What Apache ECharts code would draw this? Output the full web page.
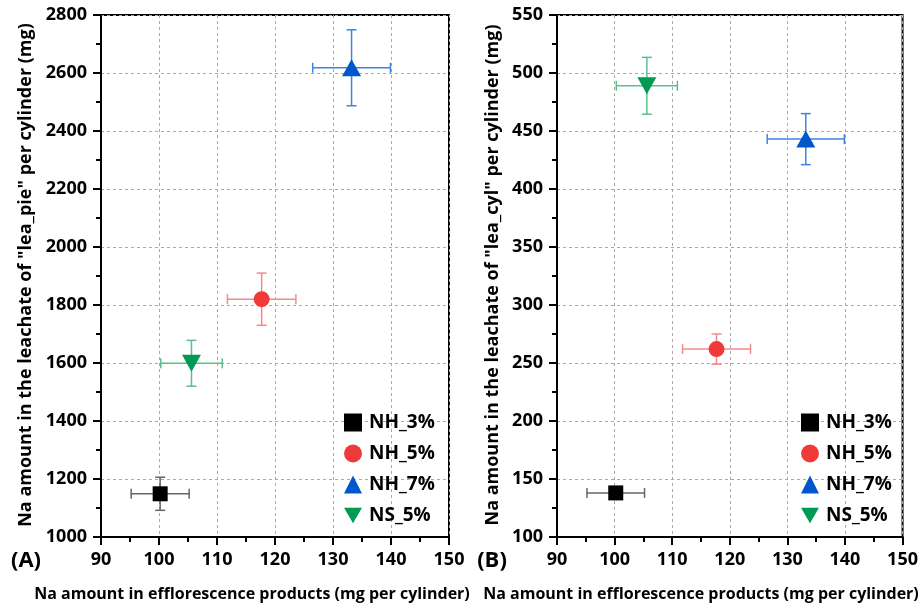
<!DOCTYPE html>
<html>
<head>
    <meta charset="utf-8">
    <title>Na amount</title>
    <script src="https://cdn.jsdelivr.net/npm/echarts@6/dist/echarts.min.js"></script>
    <style>
        html, body { margin: 0; padding: 0; background: #fff; }
        #chart { width: 921px; height: 609px; }
    </style>
</head>
<body>
<div id="chart"></div>
<script type="text/javascript">
// series names, same order in both panels
var names = ['NH_3%', 'NH_5%', 'NH_7%', 'NS_5%'];

// x: Na in efflorescence products (shared by both panels)
var effX = [100.2, 117.7, 133.2, 105.6];
var effXErr = [5.0, 5.9, 6.7, 5.3];

// panel A: leachate of "lea_pie"
var pieY = [1149, 1820, 2618, 1599];
var pieYErr = [57, 90, 131, 79];

// panel B: leachate of "lea_cyl"
var cylY = [138, 262, 443, 489];
var cylYErr = [5, 13, 22, 24.5];

var markColors = ['#000000', '#f03a3a', '#0057cc', '#009a55'];
var barColors = ['#666666', '#f38a8a', '#3f83e3', '#5cbf8c'];
var symbols = ['rect', 'circle', 'triangle', 'path://M0,0 L10,0 L5,8.7 Z'];
var symbolSizes = [15, 16, [19, 17], [19, 17]];

var font = '"Open Sans", "DejaVu Sans", sans-serif';

var myChart = echarts.init(document.getElementById('chart'));

function errorBars(color) {
    return function (params, api) {
        var x = api.value(0), y = api.value(1), dx = api.value(2), dy = api.value(3);
        var l = api.coord([x - dx, y]);
        var r = api.coord([x + dx, y]);
        var t = api.coord([x, y + dy]);
        var b = api.coord([x, y - dy]);
        var cap = 5;
        var st = { stroke: color, lineWidth: 1.5 };
        return {
            type: 'group',
            children: [
                { type: 'line', shape: { x1: l[0], y1: l[1], x2: r[0], y2: r[1] }, style: st },
                { type: 'line', shape: { x1: l[0], y1: l[1] - cap, x2: l[0], y2: l[1] + cap }, style: st },
                { type: 'line', shape: { x1: r[0], y1: r[1] - cap, x2: r[0], y2: r[1] + cap }, style: st },
                { type: 'line', shape: { x1: t[0], y1: t[1], x2: b[0], y2: b[1] }, style: st },
                { type: 'line', shape: { x1: t[0] - cap, y1: t[1], x2: t[0] + cap, y2: t[1] }, style: st },
                { type: 'line', shape: { x1: b[0] - cap, y1: b[1], x2: b[0] + cap, y2: b[1] }, style: st }
            ]
        };
    };
}

var series = [];
[[pieY, pieYErr], [cylY, cylYErr]].forEach(function (panel, p) {
    names.forEach(function (n, i) {
        series.push({
            name: n,
            type: 'custom',
            xAxisIndex: p,
            yAxisIndex: p,
            renderItem: errorBars(barColors[i]),
            itemStyle: { color: markColors[i] },
            data: [[effX[i], panel[0][i], effXErr[i], panel[1][i]]],
            z: 2,
            silent: true
        });
        series.push({
            name: n,
            type: 'scatter',
            xAxisIndex: p,
            yAxisIndex: p,
            symbol: symbols[i],
            symbolSize: symbolSizes[i],
            itemStyle: { color: markColors[i], opacity: 1 },
            data: [[effX[i], panel[0][i]]],
            z: 5
        });
    });
});

function axisCommon() {
    return {
        axisLine: { show: true, lineStyle: { color: '#000', width: 2 } },
        axisTick: { show: true, length: 8, lineStyle: { color: '#000', width: 2 } },
        minorTick: { show: true, splitNumber: 2, length: 5, lineStyle: { color: '#000', width: 2 } },
        axisLabel: {
            color: '#000', fontFamily: font, fontWeight: 'bold', fontSize: 18, margin: 14,
            formatter: function (v) { return String(v); }
        },
        splitLine: { show: true, lineStyle: { color: '#a8a8a8', type: [3, 3], width: 1 } }
    };
}

function xAxis(idx) {
    return Object.assign({ gridIndex: idx, type: 'value', min: 90, max: 150, interval: 10 }, axisCommon());
}

function yAxis(idx, min, max, interval) {
    return Object.assign({ gridIndex: idx, type: 'value', min: min, max: max, interval: interval }, axisCommon());
}

function legend(left) {
    return {
        data: names.map(function (n, i) { return { name: n, icon: symbols[i] }; }),
        orient: 'vertical', left: left, top: 408,
        itemWidth: 18, itemHeight: 18, itemGap: 12,
        selectedMode: false,
        textStyle: { color: '#000', fontFamily: font, fontWeight: 'bold', fontSize: 19, padding: [0, 0, 0, 2] }
    };
}

function text(x, y, s, size, rotate) {
    return {
        type: 'text', x: x, y: y, rotation: rotate ? Math.PI / 2 : 0,
        style: {
            text: s, fill: '#000', font: 'bold ' + size + 'px ' + font,
            textAlign: 'center', textVerticalAlign: 'middle'
        }
    };
}

myChart.setOption({
    animation: false,
    grid: [
        { left: 101, top: 15, width: 348, height: 522, show: true, borderColor: '#000', borderWidth: 2 },
        { left: 557, top: 15, width: 348, height: 522, show: true, borderColor: '#000', borderWidth: 2 }
    ],
    xAxis: [xAxis(0), xAxis(1)],
    yAxis: [yAxis(0, 1000, 2800, 200), yAxis(1, 100, 550, 50)],
    legend: [legend(339), legend(796)],
    graphic: [
        text(26, 275, 'Na amount in the leachate of "lea_pie" per cylinder (mg)', 18, true),
        text(493, 275, 'Na amount in the leachate of "lea_cyl" per cylinder (mg)', 18, true),
        text(252, 594, 'Na amount in efflorescence products (mg per cylinder)', 16, false),
        text(701, 594, 'Na amount in efflorescence products (mg per cylinder)', 16, false),
        text(26, 561, '(A)', 22, false),
        text(492, 561, '(B)', 22, false)
    ],
    series: series
});
</script>
</body>
</html>
